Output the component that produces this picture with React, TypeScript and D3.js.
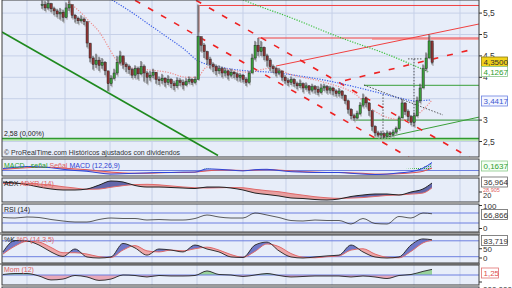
import React from 'react';
import * as d3 from 'd3';

const W = 512, H = 288;

// ---------- price bars (bar index 0..130) ----------
const closes = [5.70,5.62,5.72,5.60,5.55,5.48,5.52,5.40,5.62,5.70,5.45,5.38,5.32,5.36,5.30,4.80,4.45,4.30,4.40,4.28,
4.35,4.15,3.85,3.98,4.10,4.35,4.50,4.30,4.25,4.18,4.05,4.20,4.08,4.25,4.10,4.00,4.05,4.12,3.95,3.92,
3.98,3.88,3.95,3.85,3.80,3.92,3.88,3.82,3.90,3.95,3.88,3.95,4.95,4.75,4.60,4.42,4.30,4.25,4.15,4.20,
4.10,4.15,4.05,4.12,4.08,4.00,4.05,3.95,3.88,4.10,4.45,4.75,4.60,4.70,4.50,4.40,4.25,4.20,4.10,4.15,
4.00,3.92,3.88,3.95,3.85,3.80,3.85,3.75,3.80,3.70,3.78,3.72,3.65,3.75,3.78,3.70,3.75,3.68,3.62,3.68,
3.58,3.45,3.25,3.10,3.05,3.15,3.35,3.50,3.40,3.22,2.85,2.70,2.65,2.68,2.62,2.70,2.66,2.72,2.80,3.05,
3.40,3.20,3.08,2.95,3.10,3.45,3.75,4.20,4.45,4.85,4.35];
const highs = [5.80,5.78,5.82,5.74,5.65,5.60,5.62,5.58,5.75,5.82,5.65,5.48,5.42,5.45,5.40,5.30,4.80,4.50,4.55,4.48,
4.45,4.38,4.15,4.05,4.20,4.50,4.62,4.48,4.35,4.30,4.22,4.28,4.25,4.38,4.30,4.15,4.15,4.20,4.12,4.02,
4.08,4.00,4.05,3.98,3.92,4.00,3.98,3.95,3.98,4.02,3.98,4.02,5.70,4.95,4.80,4.62,4.48,4.35,4.30,4.28,
4.25,4.22,4.18,4.20,4.15,4.12,4.10,4.08,4.00,4.15,4.55,4.85,4.92,4.85,4.72,4.55,4.45,4.30,4.25,4.22,
4.15,4.05,3.98,4.02,3.98,3.90,3.95,3.88,3.88,3.82,3.85,3.82,3.80,3.85,3.85,3.82,3.80,3.78,3.72,3.75,
3.70,3.60,3.48,3.28,3.15,3.22,3.42,3.62,3.55,3.42,3.22,2.88,2.75,2.75,2.72,2.76,2.74,2.78,2.85,3.10,
3.50,3.42,3.25,3.12,3.18,3.55,3.85,4.30,4.58,5.00,4.82];
const lows = [5.60,5.55,5.58,5.52,5.45,5.40,5.35,5.30,5.38,5.55,5.38,5.28,5.25,5.28,5.22,4.70,4.35,4.18,4.22,4.15,
4.20,4.05,3.68,3.80,3.95,4.05,4.30,4.20,4.12,4.08,3.98,3.98,3.95,4.05,3.90,3.85,3.92,3.98,3.85,3.82,
3.85,3.78,3.82,3.75,3.70,3.75,3.80,3.72,3.80,3.85,3.82,3.85,3.95,4.60,4.45,4.30,4.20,4.12,4.05,4.08,
4.00,4.02,3.95,4.00,3.98,3.92,3.90,3.88,3.80,3.85,4.10,4.40,4.50,4.50,4.40,4.25,4.15,4.10,4.02,4.05,
3.92,3.85,3.80,3.82,3.78,3.72,3.75,3.65,3.70,3.62,3.65,3.62,3.58,3.62,3.68,3.62,3.62,3.58,3.55,3.55,
3.50,3.38,3.15,3.02,2.98,3.02,3.12,3.30,3.30,3.10,2.75,2.62,2.60,2.57,2.58,2.60,2.60,2.62,2.68,2.78,
3.05,3.12,2.98,2.88,2.85,3.08,3.40,3.75,4.15,4.45,4.30];

// ---------- moving averages (bar index, price) ----------
const maPinkIdx = [8.7,13.7,15.3,19.3,22.7,24.3,28.3,36,41.7,48.3,51.7,55,59.3,68.3,77,82.3,93.7,104.7,110.3,115.7,121.3,127,130];
const maPink = [5.76,5.46,5.34,5.04,4.64,4.45,4.24,4.17,4.12,4.0,4.0,4.24,4.22,4.12,4.22,4.08,3.89,3.59,3.24,3.05,3.0,3.24,3.47];
const maBlueIdx = [23.3,30.3,36,41.7,47.7,51.7,59.3,68.3,76,86,93.7,104.7,112.7,119,124.3,129.3];
const maBlue = [5.81,5.50,5.22,4.94,4.64,4.40,4.24,4.15,4.12,4.03,3.94,3.77,3.63,3.52,3.45,3.47];
const maGreenIdx = [67,71.3,82.3,99,115.7,129];
const maGreen = [5.81,5.69,5.41,4.94,4.52,4.12];

// ---------- indicators (sampled at bar indices) ----------
const indIdx = [-13,-9,-5,-1,3,7,11,15,19,23,27,31,35,39,43,47,51,55,59,63,67,71,75,79,83,87,91,95,99,103,107,111,115,119,123,127,130];
const macdLine = [0.05,0.08,0.10,0.09,0.07,0.03,0.00,-0.02,-0.06,-0.09,-0.08,-0.07,-0.06,-0.05,-0.05,-0.04,-0.04,0.04,0.03,0.01,-0.01,0.02,0.03,0.00,-0.03,-0.04,-0.05,-0.05,-0.05,-0.07,-0.09,-0.10,-0.09,-0.06,-0.03,0.06,0.20];
const macdSignal = [0.03,0.05,0.07,0.08,0.08,0.06,0.04,0.02,-0.01,-0.04,-0.06,-0.07,-0.07,-0.06,-0.05,-0.05,-0.04,-0.01,0.01,0.01,0.00,0.01,0.02,0.01,-0.01,-0.03,-0.04,-0.05,-0.05,-0.06,-0.07,-0.09,-0.09,-0.08,-0.06,-0.02,0.06];
const macdHist = [0.02,0.03,0.03,0.01,0,0,0,0,0,0,0,0,0,0,0,0,0,0.05,0.02,0,0,0.01,0.01,0,0,0,0,0,0,0,0,0,0.01,0.03,0.05,0.09,0.1637];
const adx = [38.9,37,34,29.4,25.7,23.8,23.8,25.7,33,40.8,38.9,32.3,29.4,29.4,28.5,27.5,26.6,29.4,29.4,27.5,23.8,18,15.3,12.5,8.7,7.7,5.8,4.9,6.8,11.5,14.3,16.2,16.2,14.3,20,25.7,36.964];
const adxr = [36,36.5,36.5,35,33,30,27.5,25,25.5,29,32,34,34.5,33.5,31.5,29.5,28,27.5,28,28.5,28,25,22.5,20.5,17,14,11,9,8,8.5,9.5,11.5,13.5,14.5,16,18,28];
const rsi = [52,50,54,52,44,38,34,34,44,50,48,48,42,44,42,42,48,62,54,50,50,70,62,52,40,38,42,40,40,26,48,28,26,56,50,70,66.866];
const stochK = [38,81,79,64,38,21,49,19,15,19,70,53,26,49,45,38,64,49,38,19,17,64,75,42,19,15,19,23,26,64,38,19,15,19,64,87,83.719];
const stochD = [30,60,78,75,55,35,35,30,20,17,45,62,42,38,45,42,50,56,45,28,18,40,68,58,32,18,16,20,23,45,50,30,18,16,40,72,82];
const mom = [0.11,0.33,0.33,-0.22,-1.1,-0.9,-0.11,-0.44,-1.2,-0.9,0,-0.11,-0.44,-0.11,-0.22,-0.22,-0.11,0.9,0.11,0,-0.33,0,0.33,-0.11,-0.44,-0.33,-0.22,-0.22,-0.22,-0.44,-0.22,-0.44,-0.78,-0.11,0.11,0.8,1.25];

// ---------- axis ticks / grid ----------
const priceTicks = [5.5, 5, 4.5, 4, 3, 2.5];
const priceGrid = [5.5, 5, 4.5, 4, 3.5, 3, 2.5];
const gridIdx = [-5, 7.67, 22.67, 36.67, 51.67, 67, 81.33, 96.67, 124, 139.33];

// ---------- drawn trend lines [idx0, price0, idx1, price1] ----------
const greenSolid = [[-13.33, 5.058, 58.67, 2.173]];
const greenThin = [[104.33, 3.0, 145.67, 3.0], [107.33, 3.813, 145.67, 3.813], [113.67, 2.582, 145.67, 3.07]];
const supportLevel = 2.57;
const redSolid = [[52.33, 5.678, 145.67, 5.678], [52.33, 5.678, 52.33, 5.05], [72, 4.918, 145.67, 4.918], [78, 4.264, 145.67, 5.245]];
const redDashed = [[51.33, 5.8, 142.67, 2.12], [31.0, 5.8, 122.33, 2.128], [101, 3.925, 143.33, 4.65]];
const blackDotted = [[107.33, 3.82, 133.67, 3.12], [113.67, 3.6, 113.67, 2.58], [124, 4.43, 124, 2.85], [122, 4.43, 126.67, 4.43]];

const FONT = "'Liberation Sans', Arial, sans-serif";

const xS = d3.scaleLinear().domain([-13.333, 145.667]).range([2, 479]);
const yP = d3.scaleLinear().domain([2.5, 5.5]).range([141.5, 13.1]);
const yMacd = d3.scaleLinear().domain([0, 0.1]).range([170.5, 166.5]);
const yAdx = d3.scaleLinear().domain([20, 37]).range([192, 183]);
const yRsi = d3.scaleLinear().domain([0, 100]).range([230.5, 205.5]);
const yStoch = d3.scaleLinear().domain([0, 100]).range([262, 235.5]);
const yMom = d3.scaleLinear().domain([0, 1]).range([275, 270.5]);

const panels = [
  { top: 0, bottom: 157 },
  { top: 159, bottom: 176 },
  { top: 178, bottom: 202 },
  { top: 204, bottom: 232 },
  { top: 235, bottom: 263 },
  { top: 265, bottom: 285 },
  { top: 287, bottom: 300 },
];

const BG = '#e7edf9';
const GRID = '#c6d0e8';
const HLINE = '#6d7fe0';

function linePath(idx: number[], vals: number[], ys: (v: number) => number) {
  return d3.line<number>().x((_, i) => xS(idx[i])).y((v) => ys(v)).curve(d3.curveMonotoneX)(vals) || '';
}

function DiffFill({ id, idx, a, b, top, bottom, colorA, colorB, opA = 1, opB = 1 }: any) {
  const pts = idx.map((x: number, i: number) => ({ x: xS(x), ya: a[i], yb: b[i] }));
  const c = d3.curveMonotoneX;
  const clipAboveB = d3.area<any>().x(d => d.x).y0(top).y1(d => d.yb).curve(c)(pts) || '';
  const clipBelowB = d3.area<any>().x(d => d.x).y0(bottom).y1(d => d.yb).curve(c)(pts) || '';
  const fillA = d3.area<any>().x(d => d.x).y0(bottom).y1(d => d.ya).curve(c)(pts) || '';
  const fillB = d3.area<any>().x(d => d.x).y0(top).y1(d => d.ya).curve(c)(pts) || '';
  return (
    <g>
      <defs>
        <clipPath id={id + 'A'}><path d={clipAboveB} /></clipPath>
        <clipPath id={id + 'B'}><path d={clipBelowB} /></clipPath>
      </defs>
      <path d={fillA} fill={colorA} opacity={opA} clipPath={`url(#${id}A)`} />
      <path d={fillB} fill={colorB} opacity={opB} clipPath={`url(#${id}B)`} />
    </g>
  );
}

function Box({ y, text, fill, stroke, color, w = 26 }: any) {
  return (
    <g>
      <rect x={481.5} y={y - 5} width={w} height={10} fill={fill} stroke={stroke} strokeWidth={0.8} />
      <text x={483.5} y={y + 3} fontSize={8} fill={color} fontFamily={FONT}>{text}</text>
    </g>
  );
}

export default function App() {
  const candles = closes.map((c, i) => {
    const o = i === 0 ? c : closes[i - 1];
    return { i, o, c, h: highs[i], l: lows[i] };
  });
  const mainClip = 'mainClip';
  const P = panels;

  return (
    <svg width={W} height={H} style={{ position: 'absolute', left: 0, top: 0, background: '#fff' }} fontFamily={FONT}>
      <defs>
        <clipPath id={mainClip}><rect x={2} y={0} width={477} height={157} /></clipPath>
        <pattern id="histPat" width="2" height="2" patternUnits="userSpaceOnUse">
          <rect x="0" y="0" width="1" height="1" fill="#2fae2f" />
        </pattern>
      </defs>
      {/* separators */}
      <rect x={0} y={232} width={480} height={3} fill="#9a9a9a" />
      <rect x={0} y={263} width={480} height={2} fill="#9a9a9a" />
      {/* panel backgrounds */}
      {P.map((p, k) => (
        <rect key={k} x={2} y={p.top} width={477} height={p.bottom - p.top} fill={BG} />
      ))}
      {/* vertical grid */}
      {P.map((p, k) => gridIdx.map((g, j) => (
        <line key={k + '-' + j} x1={xS(g)} x2={xS(g)} y1={p.top} y2={p.bottom} stroke={GRID} strokeWidth={1} />
      )))}
      {/* price grid */}
      {priceGrid.map((v, k) => (
        <line key={k} x1={2} x2={479} y1={yP(v)} y2={yP(v)} stroke={GRID} strokeWidth={1} />
      ))}

      {/* ---------- main chart ---------- */}
      <g clipPath={`url(#${mainClip})`}>
        {/* support */}
        <rect x={2} y={yP(supportLevel)} width={477} height={2.5} fill="#bfe6b8" />
        <line x1={2} x2={479} y1={yP(supportLevel)} y2={yP(supportLevel)} stroke="#2f9a2f" strokeWidth={1.4} />
        {greenSolid.map((s, k) => (
          <line key={k} x1={xS(s[0])} y1={yP(s[1])} x2={xS(s[2])} y2={yP(s[3])} stroke="#1f8a1f" strokeWidth={1.6} />
        ))}
        {greenThin.map((s, k) => (
          <line key={k} x1={xS(s[0])} y1={yP(s[1])} x2={xS(s[2])} y2={yP(s[3])} stroke="#3a9f3a" strokeWidth={1} />
        ))}
        {/* light pink band under resistance */}
        <line x1={xS(110)} x2={479} y1={yP(4.918) + 1.2} y2={yP(4.918) + 1.2} stroke="#f6a8a8" strokeWidth={1.6} />
        {redSolid.map((s, k) => (
          <line key={k} x1={xS(s[0])} y1={yP(s[1])} x2={xS(s[2])} y2={yP(s[3])} stroke="#f04040" strokeWidth={1} />
        ))}
        {redDashed.map((s, k) => (
          <line key={k} x1={xS(s[0])} y1={yP(s[1])} x2={xS(s[2])} y2={yP(s[3])} stroke="#ee2222" strokeWidth={1.6} strokeDasharray="6 9" />
        ))}
        {/* moving averages */}
        <path d={linePath(maGreenIdx, maGreen, yP)} fill="none" stroke="#3cc03c" strokeWidth={1.2} strokeDasharray="1.2 1.4" />
        <path d={linePath(maBlueIdx, maBlue, yP)} fill="none" stroke="#3b5ee8" strokeWidth={1.2} strokeDasharray="1.2 1.4" />
        <path d={linePath(maPinkIdx, maPink, yP)} fill="none" stroke="#ee8e8e" strokeWidth={1.2} strokeDasharray="1.2 1.4" />
        {blackDotted.map((s, k) => (
          <line key={k} x1={xS(s[0])} y1={yP(s[1])} x2={xS(s[2])} y2={yP(s[3])} stroke="#333" strokeWidth={0.8} strokeDasharray="1.5 1.5" />
        ))}
        {/* candles */}
        {candles.map(d => {
          const x = xS(d.i);
          const up = d.c >= d.o;
          const top = yP(Math.max(d.o, d.c));
          const bot = yP(Math.min(d.o, d.c));
          return (
            <g key={d.i}>
              <line x1={x + 1} x2={x + 1} y1={yP(d.h) + 1} y2={yP(d.l) + 1.5} stroke="#a9a9a9" strokeWidth={1.2} />
              <line x1={x} x2={x} y1={yP(d.h)} y2={yP(d.l)} stroke="#222" strokeWidth={0.8} />
              <rect x={x - 1} y={top} width={2.2} height={Math.max(1, bot - top)} fill={up ? '#3a9a3a' : '#8a3434'} stroke="#1c1c1c" strokeWidth={0.4} />
            </g>
          );
        })}
        <text x={4} y={yP(supportLevel) - 2.5} fontSize={7} fill="#222">2,58 (0,00%)</text>
        <text x={4} y={155} fontSize={7} fill="#333">© ProRealTime.com  Históricos ajustados con dividendos</text>
      </g>

      {/* ---------- MACD ---------- */}
      <DiffFill id="macdf" idx={indIdx} a={macdLine.map(v => yMacd(v))} b={macdSignal.map(v => yMacd(v))} top={159} bottom={176} colorA="#9fb0f0" colorB="#f0a0a0" opA={0.6} opB={0.8} />
      <path d={(d3.area<number>().x((_, i) => xS(indIdx[i])).y0(yMacd(0)).y1(v => yMacd(v)).curve(d3.curveMonotoneX)(macdHist)) || ''} fill="url(#histPat)" />
      <line x1={2} x2={479} y1={yMacd(0)} y2={yMacd(0)} stroke={HLINE} strokeWidth={1} />
      <path d={linePath(indIdx, macdSignal, yMacd)} fill="none" stroke="#e05555" strokeWidth={1} />
      <path d={linePath(indIdx, macdLine, yMacd)} fill="none" stroke="#2f45d8" strokeWidth={1} />
      <text x={4} y={167.5} fontSize={7}>
        <tspan fill="#2aa02a">MACD - señal </tspan>
        <tspan fill="#e06060">Señal </tspan>
        <tspan fill="#3040d0">MACD (12,26,9)</tspan>
      </text>

      {/* ---------- ADX ---------- */}
      <DiffFill id="adxf" idx={indIdx} a={adx.map(v => yAdx(v))} b={adxr.map(v => yAdx(v))} top={178} bottom={202} colorA="#4a4f9c" colorB="#e89090" opA={0.85} opB={0.85} />
      <path d={linePath(indIdx, adxr, yAdx)} fill="none" stroke="#e06a6a" strokeWidth={1} />
      <path d={linePath(indIdx, adx, yAdx)} fill="none" stroke="#222" strokeWidth={1} />
      <text x={4} y={186} fontSize={7}>
        <tspan fill="#222">ADX </tspan>
        <tspan fill="#e06060">ADXR (14)</tspan>
      </text>

      {/* ---------- RSI ---------- */}
      <line x1={2} x2={479} y1={yRsi(70)} y2={yRsi(70)} stroke={HLINE} strokeWidth={1} />
      <line x1={2} x2={479} y1={yRsi(30)} y2={yRsi(30)} stroke={HLINE} strokeWidth={1} />
      <path d={linePath(indIdx, rsi, yRsi)} fill="none" stroke="#333" strokeWidth={0.8} />
      <text x={4} y={212} fontSize={7} fill="#222">RSI (14)</text>

      {/* ---------- Stochastic ---------- */}
      <line x1={2} x2={479} y1={yStoch(80)} y2={yStoch(80)} stroke={HLINE} strokeWidth={1} />
      <line x1={2} x2={479} y1={yStoch(20)} y2={yStoch(20)} stroke={HLINE} strokeWidth={1} />
      <DiffFill id="stf" idx={indIdx} a={stochK.map(v => yStoch(v))} b={stochD.map(v => yStoch(v))} top={235} bottom={263} colorA="#5a64c0" colorB="#ee9a9a" opA={0.85} opB={0.85} />
      <path d={linePath(indIdx, stochD, yStoch)} fill="none" stroke="#e06a6a" strokeWidth={1} />
      <path d={linePath(indIdx, stochK, yStoch)} fill="none" stroke="#222" strokeWidth={0.9} />
      <text x={4} y={242} fontSize={7}>
        <tspan fill="#222">%K </tspan>
        <tspan fill="#e06060">%D (14,3,5)</tspan>
      </text>

      {/* ---------- Momentum ---------- */}
      <DiffFill id="momf" idx={indIdx} a={mom.map(v => yMom(v))} b={mom.map(() => yMom(0))} top={265} bottom={285} colorA="#8fcf8f" colorB="#e8a0b0" opA={0.9} opB={0.9} />
      <line x1={2} x2={479} y1={yMom(0)} y2={yMom(0)} stroke={HLINE} strokeWidth={1} />
      <path d={linePath(indIdx, mom, yMom)} fill="none" stroke="#222" strokeWidth={0.9} />
      <text x={4} y={272} fontSize={7} fill="#e06060">Mom (12)</text>
      <text x={4} y={293} fontSize={7} fill="#e06060">Vol</text>

      {/* panel borders */}
      {P.map((p, k) => (
        <rect key={k} x={2} y={p.top} width={477} height={p.bottom - p.top} fill="none" stroke="#3a3a3a" strokeWidth={1} />
      ))}

      {/* ---------- right axis ---------- */}
      {priceTicks.map((v, k) => (
        <g key={k}>
          <line x1={479} x2={482} y1={yP(v)} y2={yP(v)} stroke="#333" />
          <text x={483} y={yP(v) + 3} fontSize={8.5} fill="#333">{String(v).replace('.', ',')}</text>
        </g>
      ))}
      <Box y={62} text="4,3500" fill="#f2d21a" stroke="#8a7a10" color="#333" />
      <Box y={71.5} text="4,1267" fill="#fff" stroke="#8ac88a" color="#2e9e2e" />
      <Box y={101} text="3,4417" fill="#f4f6ff" stroke="#6a80e0" color="#4058d0" />

      <Box y={166} text="0,1637" fill="#f4fff4" stroke="#8ac88a" color="#2e9e2e" />
      <Box y={182} text="36,964" fill="#fff" stroke="#666" color="#333" />
      <text x={483} y={191.5} fontSize={5.5} fill="#e06060">28,905</text>
      <line x1={479} x2={482} y1={yAdx(20)} y2={yAdx(20)} stroke="#333" />
      <text x={483} y={197.5} fontSize={7.5} fill="#333">20</text>

      <line x1={479} x2={482} y1={yRsi(100)} y2={yRsi(100)} stroke="#333" />
      <text x={483} y={208.5} fontSize={8} fill="#333">100</text>
      <Box y={214.5} text="66,866" fill="#fff" stroke="#666" color="#333" />
      <line x1={479} x2={482} y1={yRsi(0) - 2} y2={yRsi(0) - 2} stroke="#333" />
      <text x={483} y={231} fontSize={8} fill="#333">0</text>

      <Box y={240.5} text="83,719" fill="#fff" stroke="#666" color="#333" />
      <line x1={479} x2={482} y1={yStoch(50)} y2={yStoch(50)} stroke="#333" />
      <text x={483} y={251.5} fontSize={8} fill="#333">50</text>
      <line x1={479} x2={482} y1={258} y2={258} stroke="#333" />
      <text x={483} y={261} fontSize={8} fill="#333">0</text>

      <Box y={273} text="1,25" fill="#fff" stroke="#e07070" color="#e05050" w={17} />
      <line x1={479} x2={482} y1={282} y2={282} stroke="#333" />
      <text x={483} y={292} fontSize={8} fill="#333">000,000</text>
    </svg>
  );
}
